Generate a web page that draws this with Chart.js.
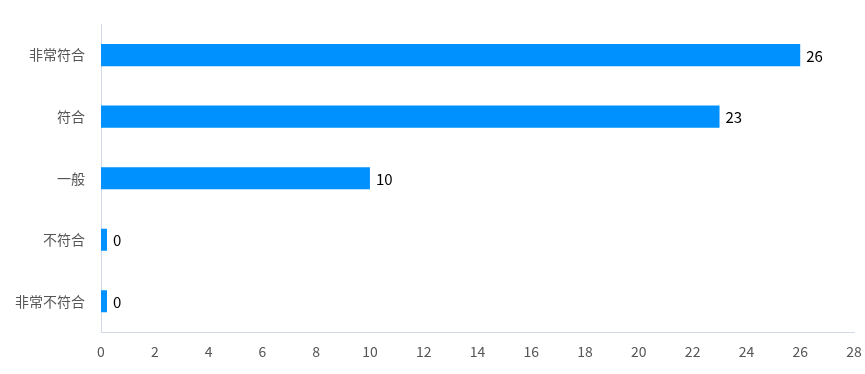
<!DOCTYPE html>
<html>
<head>
<meta charset="utf-8">
<script src="https://cdn.jsdelivr.net/npm/chart.js@4"></script>
<style>
 html, body { margin: 0; padding: 0; background: #fff; }
 #wrap { width: 865px; height: 374px; }
</style>
</head>
<body>
<div id="wrap"><canvas id="chart" width="865" height="374"></canvas></div>
<script>
const categories = ["非常符合", "符合", "一般", "不符合", "非常不符合"];
const counts = [26, 23, 10, 0, 0];
const xTicks = [0, 28, 2]; // min, max, step

const FONT = "'Noto Sans CJK SC', 'Noto Sans', sans-serif";

// draw the value next to the end of each bar
const barValues = {
 id: "barValues",
 afterDatasetsDraw(chart) {
  const { ctx } = chart;
  ctx.save();
  ctx.font = "15px " + FONT;
  ctx.fillStyle = "#000";
  ctx.textAlign = "left";
  ctx.textBaseline = "middle";
  chart.getDatasetMeta(0).data.forEach((bar, i) => {
   ctx.fillText(String(counts[i]), bar.x + 6, bar.y + 1);
  });
  ctx.restore();
 },
};

const ctx = document.getElementById("chart").getContext("2d");

new Chart(ctx, {
 type: "bar",
 plugins: [barValues],
 data: {
  labels: categories,
  datasets: [
   {
    data: counts,
    backgroundColor: "#0091ff",
    borderWidth: 0,
    barPercentage: 0.36,
    categoryPercentage: 1,
    minBarLength: 6,
   },
  ],
 },
 options: {
  indexAxis: "y",
  responsive: false,
  animation: false,
  layout: { padding: { top: 23, right: 11, left: 0, bottom: 0 } },
  plugins: {
   legend: { display: false },
   tooltip: { enabled: false },
  },
  scales: {
   x: {
    min: xTicks[0],
    max: xTicks[1],
    ticks: {
     stepSize: xTicks[2],
     color: "#555",
     padding: 11,
     maxRotation: 0,
     font: { family: FONT, size: 14 },
    },
    grid: { display: false, drawTicks: false },
    border: { color: "#d3d8e6", width: 1 },
    afterFit(scale) {
     scale.height = 42;
     scale.paddingLeft = 0;
     scale.paddingRight = 0;
    },
   },
   y: {
    ticks: {
     color: "#555",
     padding: 16,
     font: { family: FONT, size: 14 },
    },
    grid: { display: false, drawTicks: false },
    border: { color: "#d3d8e6", width: 1 },
    afterFit(scale) { scale.width = 101; },
   },
  },
 },
});
</script>
</body>
</html>
